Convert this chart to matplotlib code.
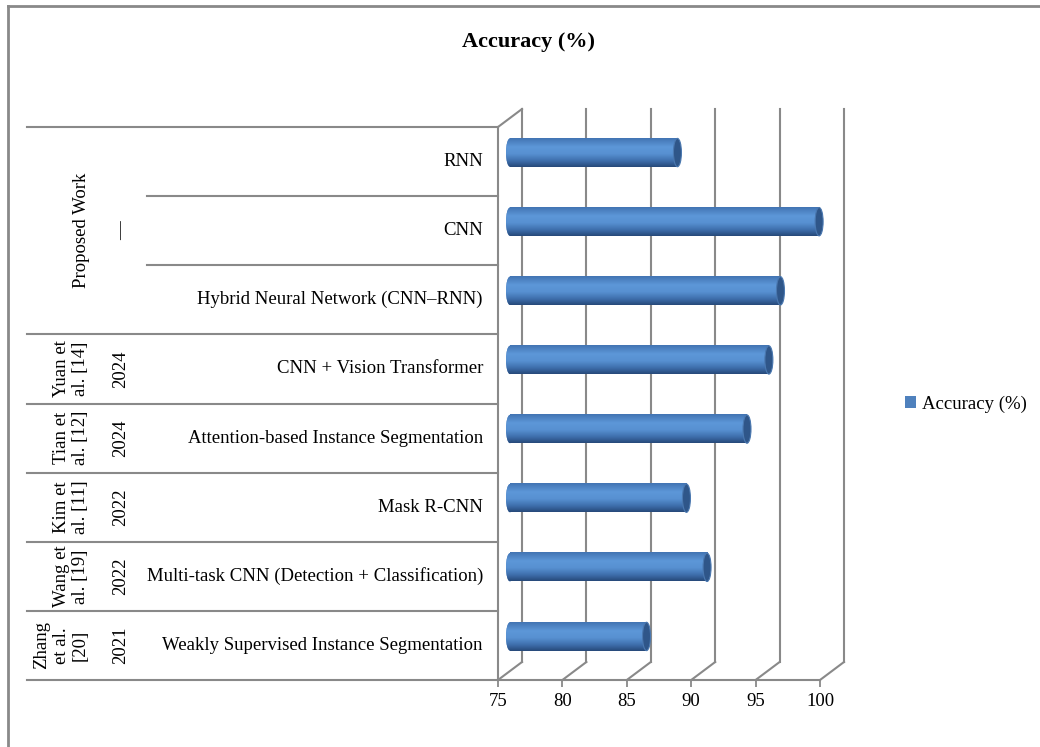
import numpy as np
import matplotlib.pyplot as plt
from matplotlib import transforms
from matplotlib.patches import Ellipse, Patch
from matplotlib.colors import LinearSegmentedColormap

plt.rcParams["font.family"] = ["Liberation Serif", "DejaVu Serif"]

# data (top row first, as in the reference)
methods = [
    "RNN",
    "CNN",
    "Hybrid Neural Network (CNN\u2013RNN)",
    "CNN + Vision Transformer",
    "Attention-based Instance Segmentation",
    "Mask R-CNN",
    "Multi-task CNN (Detection + Classification)",
    "Weakly Supervised Instance Segmentation",
]
years = ["\u2014", "\u2014", "\u2014", "2024", "2024", "2022", "2022", "2021"]
authors = ["Proposed Work", "Yuan et\nal. [14]", "Tian et\nal. [12]",
           "Kim et\nal. [11]", "Wang et\nal. [19]", "Zhang\net al.\n[20]"]
author_span = [3, 1, 1, 1, 1, 1]
accuracy = [88.0, 99.0, 96.0, 95.1, 93.4, 88.7, 90.3, 85.6]
xticks = [75, 80, 85, 90, 95, 100]

GRID = "#898989"
FS = 13.5
W, H = 1040, 747
fig = plt.figure(figsize=(W / 100, H / 100), dpi=100)

# outer chart border
fig.add_artist(plt.Line2D([8 / W, 8 / W], [0, 1 - 6 / H], color=GRID, lw=2))
fig.add_artist(plt.Line2D([8 / W, 1], [1 - 6 / H, 1 - 6 / H], color=GRID, lw=2))

fig.text(529 / W, 1 - 42 / H, "Accuracy (%)", ha="center", va="center",
         fontsize=16, fontweight="bold")

# front plane of the 3D plot
x0, x1, ytop, ybot = 498, 820, 127, 680
ax = fig.add_axes([x0 / W, 1 - ybot / H, (x1 - x0) / W, (ybot - ytop) / H])
n = len(methods)
ax.set_xlim(75, 100)
ax.set_ylim(0, n)
ax.set_xticks(xticks)
ax.set_xticklabels([str(t) for t in xticks], fontsize=FS)
ax.set_yticks([])
ax.tick_params(axis="x", direction="out", length=5, color=GRID, width=1.3, pad=4)
for s in ["top", "right"]:
    ax.spines[s].set_visible(False)
for s in ["left", "bottom"]:
    ax.spines[s].set_color(GRID)
    ax.spines[s].set_linewidth(1.5)

back = transforms.offset_copy(ax.transData, fig, x=24, y=18, units="dots")
mid = transforms.offset_copy(ax.transData, fig, x=12, y=9, units="dots")

# back wall gridlines + floor diagonals
for t in xticks:
    ax.plot([t, t], [0, n], color=GRID, lw=1.5, transform=back, clip_on=False, zorder=1)
    p0 = ax.transData.transform((t, 0))
    p1 = back.transform((t, 0))
    fig.add_artist(plt.Line2D([p0[0] / W, p1[0] / W], [p0[1] / H, p1[1] / H],
                              color=GRID, lw=1.5))
p0 = ax.transData.transform((75, n))
p1 = back.transform((75, n))
fig.add_artist(plt.Line2D([p0[0] / W, p1[0] / W], [p0[1] / H, p1[1] / H],
                          color=GRID, lw=1.5))

# cylinders
cmap = LinearSegmentedColormap.from_list(
    "cyl", [(0, "#4274b3"), (0.3, "#5d97d8"), (0.55, "#5790d1"),
            (0.8, "#3d6daa"), (1, "#274a7a")])
grad = np.linspace(0, 1, 64).reshape(-1, 1)
bh = 0.41
cap_w = 0.62
for i, v in enumerate(accuracy):
    yc = n - i - 0.5
    lo, hi = yc - bh / 2, yc + bh / 2
    left_cap = Ellipse((75, yc), cap_w, bh, transform=mid, facecolor="#4a80c2",
                       edgecolor="none", zorder=3, clip_on=False)
    ax.add_patch(left_cap)
    img = ax.imshow(grad, cmap=cmap, extent=[75, v, lo, hi], aspect="auto",
                    transform=mid, zorder=4, interpolation="bilinear")
    img.set_clip_on(False)
    img2 = ax.imshow(grad, cmap=cmap, extent=[75 - cap_w / 2, 75, lo, hi], aspect="auto",
                     transform=mid, zorder=4, interpolation="bilinear")
    img2.set_clip_path(left_cap)
    ax.add_patch(Ellipse((v, yc), cap_w, bh, transform=mid, facecolor="#2f5689",
                         edgecolor="#4a78b0", lw=0.8, zorder=5, clip_on=False))
ax.set_xlim(75, 100)
ax.set_ylim(0, n)
ax.set_aspect("auto")

# category table on the left
tab = fig.add_axes([0, 1 - ybot / H, x0 / W, (ybot - ytop) / H])
tab.set_xlim(0, x0)
tab.set_ylim(0, n)
tab.axis("off")
tab.plot([27, x0], [n, n], color=GRID, lw=1.5, clip_on=False)
for k in range(1, 3):
    tab.plot([147, x0], [n - k, n - k], color=GRID, lw=1.5, clip_on=False)
for k in range(3, n + 1):
    tab.plot([27, x0], [n - k, n - k], color=GRID, lw=1.5, clip_on=False)

for i, m in enumerate(methods):
    tab.text(483, n - i - 0.5, m, ha="right", va="center", fontsize=FS)

tab.text(122, n - 1.5, "\u2014", rotation=90, ha="center", va="center", fontsize=FS)
for i in range(3, n):
    tab.text(121, n - i - 0.5, years[i], rotation=90, ha="center", va="center", fontsize=FS)

row = 0
for a, span in zip(authors, author_span):
    yc = n - row - span / 2
    if span > 1:
        xa = 82
    elif a.count("\n") == 2:
        xa = 61
    else:
        xa = 71
    tab.text(xa, yc, a, rotation=90, ha="center", va="center", fontsize=FS,
             multialignment="center", linespacing=1.2)
    row += span

fig.legend(handles=[Patch(facecolor="#4f81bd", edgecolor="none", label="Accuracy (%)")],
           loc="center left", bbox_to_anchor=(888 / W, 1 - 404 / H), frameon=False,
           fontsize=FS, handlelength=0.6, handleheight=0.6, handletextpad=0.3)

fig.savefig("out.png", dpi=100)
